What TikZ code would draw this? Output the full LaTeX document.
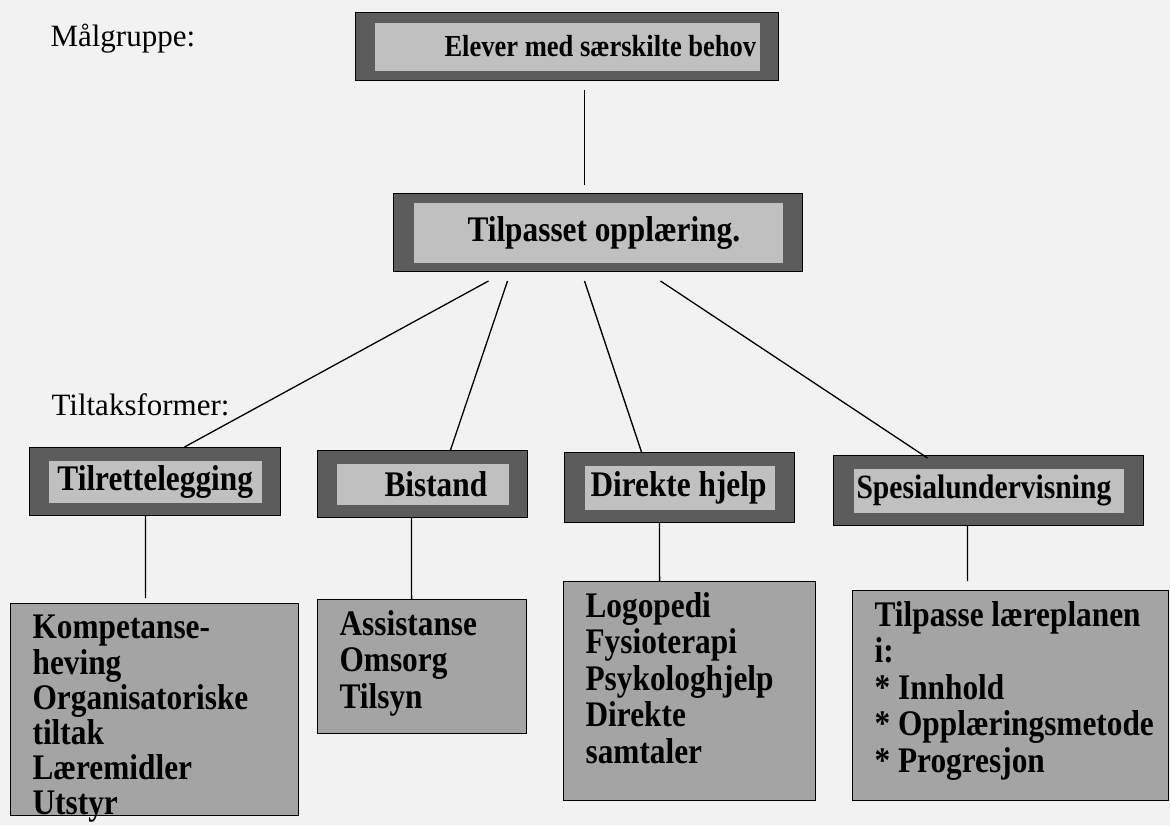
\documentclass[tikz,border=0pt]{standalone}
\usepackage{fontspec}
\setmainfont{Liberation Serif}
\newfontfamily\cond{Liberation Serif}[FakeStretch=0.87]
\definecolor{bg}{HTML}{F2F2F2}
\definecolor{framegray}{HTML}{5C5C5C}
\definecolor{innergray}{HTML}{C0C0C0}
\definecolor{boxgray}{HTML}{A4A4A4}
\lefthyphenmin=62
\begin{document}
\begin{tikzpicture}[x=1pt,y=-1pt,
  framebox/.style n args={4}{draw=black, line width=1pt, fill=framegray,
    anchor=north west, minimum width=#1, minimum height=#2,
    text width=#1, inner sep=0pt, align=flush left,
    path picture={\fill[innergray]
      ([shift={(#3pt,-#4pt)}]path picture bounding box.north west) rectangle
      ([shift={(-#3pt,#4pt)}]path picture bounding box.south east);}},
  lvltwo/.style={font=\cond\bfseries\fontsize{36}{36}\selectfont},
  listbox/.style={draw=black, line width=1.2pt, fill=boxgray, anchor=north west,
    inner xsep=22pt, inner ysep=10pt,
    font=\cond\bfseries\fontsize{36}{36.5}\selectfont},
  plain/.style={anchor=base west, font=\fontsize{31}{31}\selectfont},
  conn/.style={line width=1.3pt, black}]
\fill[bg] (0,0) rectangle (1170,825);
\useasboundingbox (0,0) rectangle (1170,825);

% labels
\node[plain] (mal) at (47,46) {Målgruppe:};
\node[plain] (tilt) at (48,415) {Tiltaksformer:};

% top level
\node[framebox={423pt}{68pt}{19}{10}, font=\cond\bfseries\fontsize{30.5}{30.5}\selectfont]
  (top) at (355,12) {\hspace*{89pt}\mbox{Elever med særskilte behov}};
\node[framebox={409pt}{78pt}{20}{9}, font=\cond\bfseries\fontsize{36}{36}\selectfont]
  (tilp) at (393,193) {\hspace*{74pt}\mbox{Tilpasset opplæring.}};

% second level
\node[framebox={251pt}{68pt}{19}{13}, lvltwo] (tilr) at (29,447) {\hspace*{28pt}\mbox{Tilrettelegging}};
\node[framebox={210pt}{67pt}{19}{13}, lvltwo] (bist) at (317,450) {\hspace*{67pt}\mbox{Bistand}};
\node[framebox={230pt}{70pt}{20}{13}, lvltwo] (dir) at (564,452) {\hspace*{26pt}\mbox{Direkte hjelp}};
\node[framebox={310pt}{70pt}{20}{13}, font=\cond\bfseries\fontsize{34}{34}\selectfont]
  (spes) at (833,455) {\hspace*{23pt}\mbox{Spesialundervisning}};

% bottom level
\node[listbox] (komp) at (10,603) {\parbox[t][192pt][t]{244pt}{\fontsize{36}{35}\selectfont\raggedright\strut
  \mbox{Kompetanse-}\\\mbox{heving}\\\mbox{Organisatoriske}\\\mbox{tiltak}\\\mbox{Læremidler}\\\mbox{Utstyr}}};
\node[listbox] (assi) at (317,599) {\parbox[t][114pt][t]{165pt}{\raggedright\strut
  \mbox{Assistanse}\\\mbox{Omsorg}\\\mbox{Tilsyn}}};
\node[listbox] (logo) at (563,581) {\parbox[t][199pt][t]{208pt}{\raggedright\strut
  \mbox{Logopedi}\\\mbox{Fysioterapi}\\\mbox{Psykologhjelp}\\\mbox{Direkte}\\\mbox{samtaler}}};
\node[listbox] (tpl) at (852,590) {\parbox[t][190pt][t]{272pt}{\raggedright\strut
  \mbox{Tilpasse læreplanen}\\\mbox{i:}\\\mbox{* Innhold}\\\mbox{* Opplæringsmetode}\\\mbox{* Progresjon}}};

% connectors
\draw[conn, shorten <=9pt, shorten >=8pt] ([xshift=17.5pt]top.south) -- ([xshift=-13.5pt]tilp.north);
\draw[conn] ([shift={(-109.5,9)}]tilp.south) -- ([xshift=29.5pt]tilr.north);
\draw[conn] ([shift={(-90.5,9)}]tilp.south) -- ([xshift=28pt]bist.north);
\draw[conn] ([shift={(-13.5,9)}]tilp.south) -- ([xshift=-38pt]dir.north);
\draw[conn] ([shift={(62.5,9)}]tilp.south) -- ([shift={(-61,3)}]spes.north);

\draw[conn, shorten >=5pt] ([xshift=-9.5pt]tilr.south) -- ([xshift=-9pt]komp.north);
\draw[conn] ([xshift=-11pt]bist.south) -- ([xshift=-10.5pt]assi.north);
\draw[conn] ([xshift=-20pt]dir.south) -- ([xshift=-30pt]logo.north);
\draw[conn, shorten >=9pt] ([xshift=-21pt]spes.south) -- ([xshift=-43pt]tpl.north);
\end{tikzpicture}
\end{document}
